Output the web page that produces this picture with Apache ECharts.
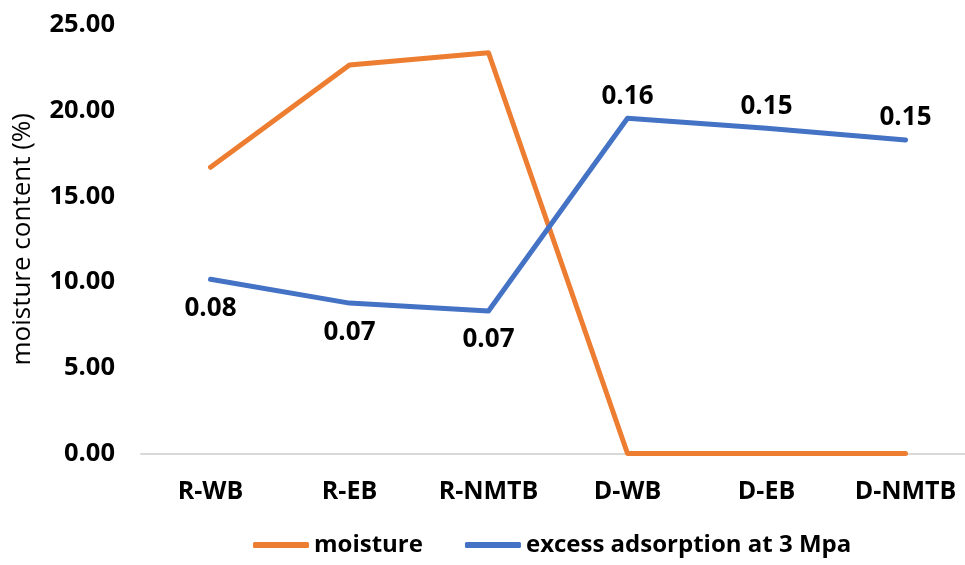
<!DOCTYPE html>
<html><head><meta charset="utf-8">
<script src="https://cdn.jsdelivr.net/npm/echarts@6/dist/echarts.min.js"></script>
<style>html,body{margin:0;padding:0;background:#fff;overflow:hidden;width:965px;height:565px}#c{width:980px;height:565px}</style>
</head><body><div id="c"></div>
<script>
const categories = ['R-WB','R-EB','R-NMTB','D-WB','D-EB','D-NMTB'];
const moisture = [16.70, 22.67, 23.38, 0, 0, 0];
const adsorption = [0.0813, 0.0702, 0.0665, 0.1565, 0.1518, 0.1463];
const yTicks = [0, 5, 10, 15, 20, 25];
const labelPos = ['bottom','bottom','bottom','top','top','top'];

const FONT = '"Open Sans"';
const chart = echarts.init(document.getElementById('c'), null, {renderer:'canvas'});
chart.setOption({
  animation: false,
  textStyle: {fontFamily: FONT},
  grid: {left: 141, width: 834, top: 25, height: 428.5, containLabel: false},
  legend: {
    bottom: 3, left: 248, itemWidth: 56, itemHeight: 6, itemGap: 42,
    icon: 'roundRect',
    textStyle: {fontFamily: FONT, fontWeight: 'bold', fontSize: 24, color: '#000'},
    data: ['moisture', 'excess adsorption at 3 Mpa']
  },
  xAxis: {
    type: 'category', data: categories, boundaryGap: true,
    axisLine: {lineStyle: {color: '#d9d9d9', width: 2}},
    axisTick: {show: false},
    axisLabel: {fontFamily: FONT, fontWeight: 'bold', fontSize: 25, color: '#000', margin: 26}
  },
  yAxis: [{
    type: 'value', min: yTicks[0], max: yTicks[yTicks.length-1], interval: 5,
    name: 'moisture content (%)', nameLocation: 'middle', nameGap: 105,
    nameTextStyle: {fontFamily: FONT, fontSize: 26, fontWeight: 'normal', color: '#000'},
    axisLine: {show: false}, axisTick: {show: false}, splitLine: {show: false},
    axisLabel: {fontFamily: FONT, fontWeight: 'bold', fontSize: 25.5, color: '#000', margin: 26,
      formatter: v => v.toFixed(2)}
  }, {
    type: 'value', min: 0, max: 0.2, show: false, splitLine: {show: false}
  }],
  series: [{
    name: 'moisture', type: 'line', data: moisture, yAxisIndex: 0,
    symbol: 'none', lineStyle: {color: '#ED7D31', width: 5, cap: 'round', join: 'round'},
    itemStyle: {color: '#ED7D31'}
  }, {
    name: 'excess adsorption at 3 Mpa', type: 'line', yAxisIndex: 1,
    data: adsorption.map((v,i) => ({value: v, label: {position: labelPos[i], distance: labelPos[i] === 'top' ? 9 : 16}})),
    symbol: 'circle', symbolSize: 0.1, showSymbol: true,
    lineStyle: {color: '#4472C4', width: 5, cap: 'round', join: 'round'},
    itemStyle: {color: '#4472C4'},
    label: {show: true, fontFamily: FONT, fontWeight: 'bold', fontSize: 26, color: '#000',
      formatter: p => p.value.toFixed(2)}
  }]
});
</script></body></html>
